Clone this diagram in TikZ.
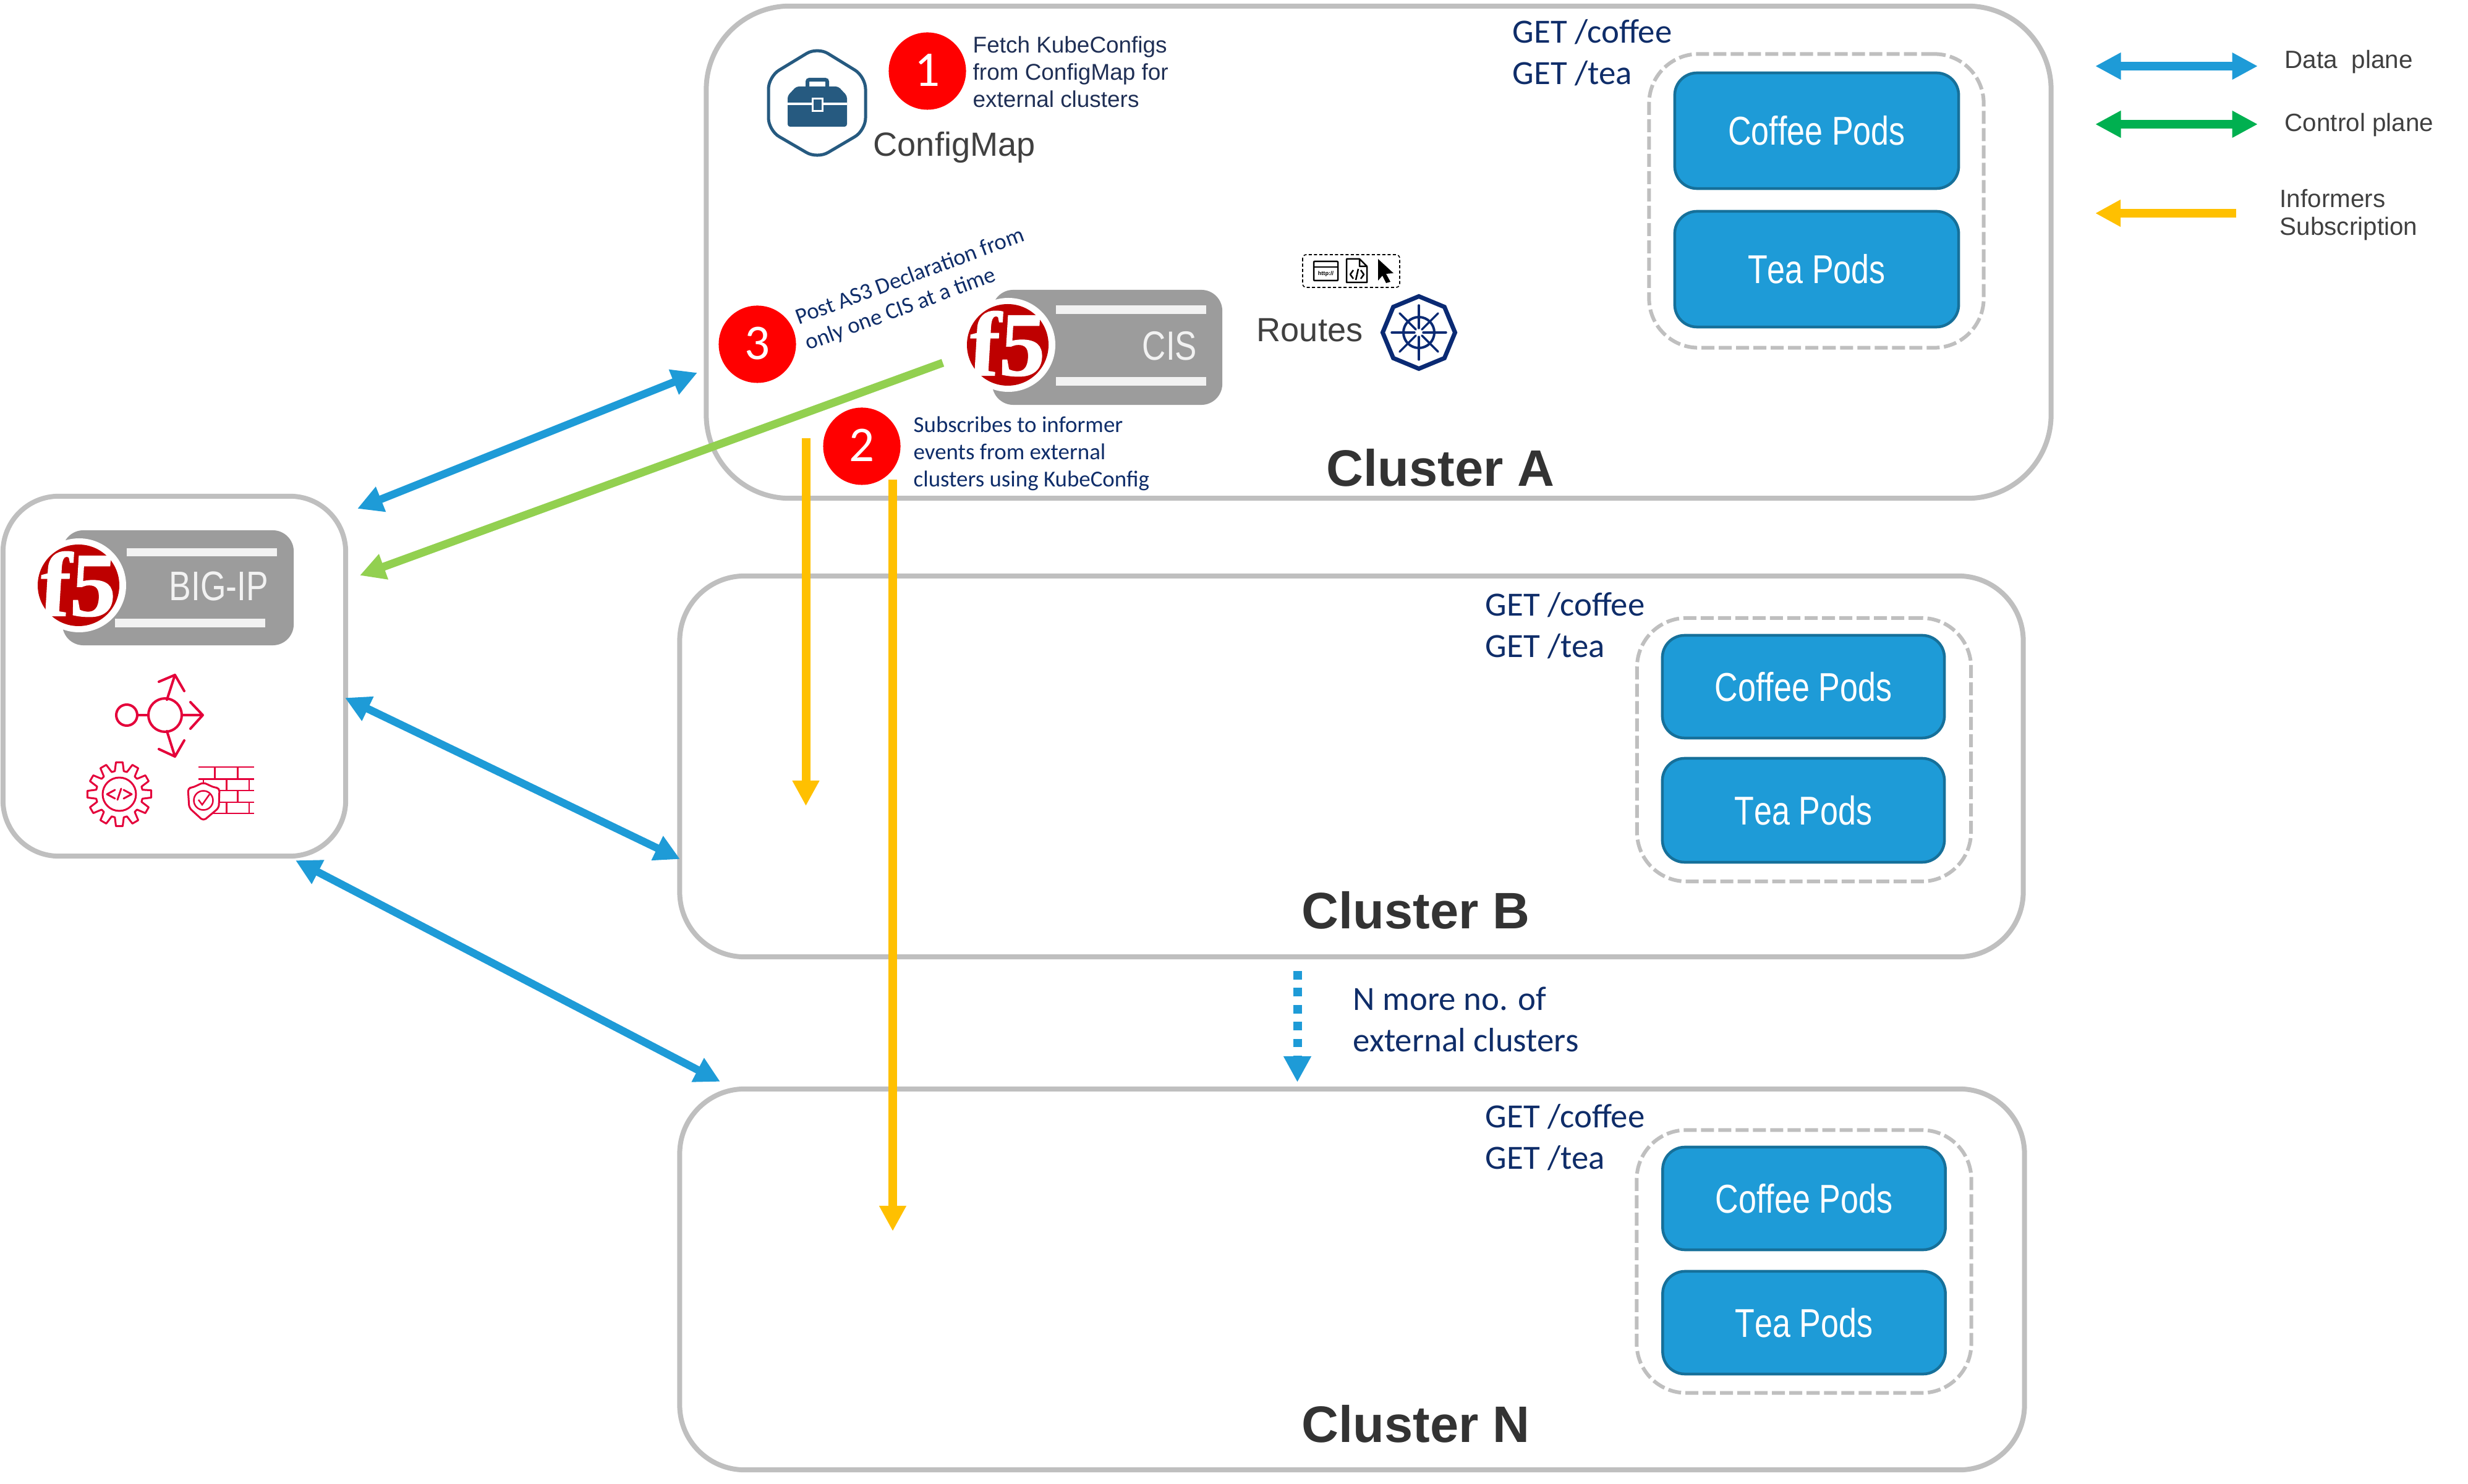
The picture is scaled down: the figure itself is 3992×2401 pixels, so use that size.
\documentclass[tikz,border=0pt]{standalone}
\usepackage{fontspec}
\usetikzlibrary{arrows.meta,shapes.geometric}
\newfontfamily\arialf[Kerning=Off]{Liberation Sans}
\newfontfamily\arialn[FakeStretch=0.8,Kerning=Off]{Liberation Sans}
\newfontfamily\carl{Carlito}
\newfontfamily\timesb[FakeBold=1]{Liberation Serif Bold}
\definecolor{panelgray}{HTML}{BFBFBF}
\definecolor{planeblue}{HTML}{1E9BD7}
\definecolor{poddark}{HTML}{16709A}
\definecolor{planegreen}{HTML}{00B050}
\definecolor{limegreen}{HTML}{92D050}
\definecolor{informer}{HTML}{FFC000}
\definecolor{navytext}{HTML}{0F2D69}
\definecolor{darknavy}{HTML}{1F2F55}
\definecolor{labelgray}{HTML}{404040}
\definecolor{clustergray}{HTML}{333333}
\definecolor{tag}{HTML}{9C9C9C}
\definecolor{barwhite}{HTML}{F2F2F2}
\definecolor{f5red}{HTML}{BE0000}
\definecolor{iconred}{HTML}{E4003A}
\definecolor{cmblue}{HTML}{265A80}
\definecolor{k8sblue}{HTML}{0A2A73}
\tikzset{
  panel/.style={draw=panelgray,line width=0.08cm,inner sep=0pt},
  dashpanel/.style={draw=panelgray,line width=0.06cm,dash pattern=on 0.21cm off 0.07cm,inner sep=0pt,rounded corners=0.8cm},
  pod/.style={draw=poddark,fill=planeblue,line width=0.045cm,rounded corners=0.36cm,inner sep=0pt,text=white,font=\arialn\fontsize{18.5pt}{18.5pt}\selectfont},
  tagbox/.style={fill=tag,rounded corners=0.34cm,inner sep=0pt,text=barwhite,font=\arialn\fontsize{19pt}{19pt}\selectfont},
  bar/.style={fill=barwhite,inner sep=0pt},
  stepdot/.style={circle,fill=red,inner sep=0pt,minimum size=1.25cm,text=white,font=\carl\fontsize{23pt}{23pt}\selectfont},
  clusterlabel/.style={inner sep=0pt,anchor=base,text=clustergray,font=\arialf\bfseries\fontsize{23.6pt}{23.6pt}\selectfont},
  gettext/.style={inner sep=0pt,anchor=north west,align=left,text=navytext,font=\carl\fontsize{15.6pt}{19.1pt}\selectfont},
  smallcarl/.style={inner sep=0pt,align=left,text=navytext,font=\carl\fontsize{10.5pt}{12.6pt}\selectfont},
  graylabel/.style={inner sep=0pt,anchor=base west,text=labelgray,font=\arialf\fontsize{15.4pt}{15.4pt}\selectfont},
  legendlabel/.style={inner sep=0pt,anchor=base west,align=left,text=labelgray,font=\arialf\fontsize{11.5pt}{12.8pt}\selectfont},
  dataarrow/.style={draw=planeblue,line width=0.125cm,{Triangle[length=0.41cm,width=0.41cm]}-{Triangle[length=0.41cm,width=0.41cm]}},
  legendtwo/.style={line width=0.135cm,{Triangle[length=0.415cm,width=0.41cm]}-{Triangle[length=0.415cm,width=0.41cm]}},
  ctrlarrow/.style={draw=limegreen,line width=0.13cm,-{Triangle[length=0.41cm,width=0.41cm]}},
  infarrow/.style={draw=informer,line width=0.14cm,-{Triangle[length=0.41cm,width=0.41cm]}},
  moredash/.style={draw=planeblue,line width=0.14cm,dash pattern=on 0.137cm off 0.137cm,-{Triangle[length=0.42cm,width=0.42cm]}},
  redicon/.style={draw=iconred,line width=0.04cm,line join=round,line cap=round},
  blackicon/.style={draw=black,line width=0.025cm,line join=round},
  pics/f5logo/.style={code={
    \fill[white] (0,0) circle (76);
    \fill[f5red] (-1,0) circle (66);
    \node[inner sep=0pt,text=white,xslant=0.06,font=\timesb\fontsize{42pt}{42pt}\selectfont] (-mark) at (-1,-2) {f5};
  }},
}
\begin{document}
\begin{tikzpicture}[x=0.01cm,y=-0.01cm]
\useasboundingbox (0,0) rectangle (3992,2401);

% clusters
\node[panel,rounded corners=1.35cm,minimum width=21.74cm,minimum height=7.96cm] (clusterA) at (2230,408) {};
\node[panel,rounded corners=1.05cm,minimum width=21.72cm,minimum height=6.16cm] (clusterB) at (2186,1240) {};
\node[panel,rounded corners=1.05cm,minimum width=21.74cm,minimum height=6.16cm] (clusterN) at (2187,2070) {};
\node[panel,rounded corners=0.9cm,minimum width=5.54cm,minimum height=5.82cm] (bigip) at (282,1094) {};

\node[clusterlabel] (labA) at (2330,787) {Cluster A};
\node[clusterlabel] (labB) at (2290,1503) {Cluster B};
\node[clusterlabel] (labN) at (2290,2333) {Cluster N};

% pods A
\node[dashpanel,minimum width=5.41cm,minimum height=4.75cm] (dashA) at (2938,325) {};
\node[pod,minimum width=4.59cm,minimum height=1.87cm] (coffeeA) at (2938.5,211.5) {Coffee Pods};
\node[pod,minimum width=4.59cm,minimum height=1.87cm] (teaA) at (2938.5,435.5) {Tea Pods};
% pods B
\node[dashpanel,minimum width=5.40cm,minimum height=4.26cm] (dashB) at (2918,1213) {};
\node[pod,minimum width=4.56cm,minimum height=1.66cm] (coffeeB) at (2917,1111) {Coffee Pods};
\node[pod,minimum width=4.56cm,minimum height=1.68cm] (teaB) at (2917,1311) {Tea Pods};
% pods N
\node[dashpanel,minimum width=5.41cm,minimum height=4.25cm] (dashN) at (2918,2041) {};
\node[pod,minimum width=4.57cm,minimum height=1.66cm] (coffeeN) at (2918,1939) {Coffee Pods};
\node[pod,minimum width=4.57cm,minimum height=1.66cm] (teaN) at (2918,2140) {Tea Pods};

% GET texts
\node[gettext] (getA) at (2446,31) {GET /coffee\\GET /tea};
\node[gettext] (getB) at (2402,958) {GET /coffee\\GET /tea};
\node[gettext] (getN) at (2402,1786) {GET /coffee\\GET /tea};
\node[gettext] (more) at (2188,1596) {N more no. of\\external clusters};

% ConfigMap icon
\draw[cmblue,line width=0.05cm,rounded corners=0.2cm,line join=round]
  (1322,76) -- (1400,124) -- (1400,211) -- (1322,257) -- (1243,211) -- (1243,124) -- cycle;
\draw[cmblue,line width=0.06cm,rounded corners=0.03cm] (1306,140) -- (1306,129) -- (1338,129) -- (1338,140);
\fill[cmblue,rounded corners=0.04cm] (1274,155) -- (1288,140) -- (1356,140) -- (1370,155) -- (1370,205) -- (1274,205) -- cycle;
\draw[white,line width=0.035cm] (1274,168) -- (1370,168);
\draw[white,fill=cmblue,line width=0.03cm] (1314,160) rectangle (1330,180);
\node[graylabel] (cmlabel) at (1412,253) {ConfigMap};

% steps
\node[stepdot] (one) at (1500,115) {\raisebox{0.8pt}{1}};
\node[stepdot] (three) at (1225,557) {\raisebox{0.8pt}{3}};
\node[stepdot] (two) at (1394,722) {\raisebox{0.8pt}{2}};
\node[inner sep=0pt,anchor=north west,align=left,text=darknavy,font=\arialf\fontsize{10.5pt}{12.55pt}\selectfont] (t1) at (1573,58) {Fetch KubeConfigs\\from ConfigMap for\\external clusters};
\node[smallcarl,anchor=north west] (t2) at (1477,673) {Subscribes to informer\\events from external\\clusters using KubeConfig};
\node[smallcarl,anchor=west,rotate=20.3] (t3) at (1296,537) {Post AS3 Declaration from\\only one CIS at a time};

% CIS tag
\node[tagbox,minimum width=3.72cm,minimum height=1.86cm] (cis) at (1791,562) {};
\node[bar,minimum width=2.43cm,minimum height=0.14cm] (cisbar1) at (1829.5,501) {};
\node[bar,minimum width=2.43cm,minimum height=0.14cm] (cisbar2) at (1829.5,617) {};
\node[inner sep=0pt,text=barwhite,font=\arialn\fontsize{18.8pt}{18.8pt}\selectfont] (cistext) at (1892,560) {CIS};
\pic (cislogo) at (1631,558) {f5logo};

% BIG-IP tag
\node[tagbox,minimum width=3.74cm,minimum height=1.86cm] (biptag) at (288,951) {};
\node[bar,minimum width=2.43cm,minimum height=0.13cm] (bipbar1) at (326.5,893.5) {};
\node[bar,minimum width=2.43cm,minimum height=0.14cm] (bipbar2) at (307.5,1008) {};
\node[inner sep=0pt,text=barwhite,font=\arialn\fontsize{19pt}{19pt}\selectfont] (biptext) at (354,949) {BIG-IP};
\pic (biplogo) at (128,947) {f5logo};

% red router icon
\draw[redicon] (205,1157) circle (17);
\draw[redicon] (267,1157) circle (27);
\draw[redicon] (222,1157) -- (240,1157);
\draw[redicon] (294,1157) -- (328,1157) (308,1136) -- (328,1157) -- (308,1179);
\draw[redicon] (270,1132) -- (283,1092) (257,1103) -- (283,1092) -- (298,1118);
\draw[redicon] (270,1183) -- (283,1224) (257,1212) -- (283,1224) -- (298,1198);
% gear
\begin{scope}[shift={(193,1285)}]
\draw[redicon,line width=0.03cm] (-7:52) \foreach \a in {0,30,...,330} { -- (\a-6:52) -- (\a+6:52) -- (\a+11:38) -- (\a+19:38) } -- cycle;
\draw[redicon,line width=0.03cm] (0,0) circle (27);
\draw[redicon,line width=0.03cm] (-7,-7) -- (-20,0) -- (-7,7) (7,-7) -- (20,0) -- (7,7) (3,-9) -- (-3,9);
\end{scope}
% wall
\draw[iconred,line width=0.025cm]
  (321,1241) -- (411,1241) (321,1260.5) -- (411,1260.5) (340,1279) -- (411,1279) (340,1298) -- (411,1298) (340,1316) -- (411,1316)
  (347.5,1241) -- (347.5,1260.5) (384.5,1241) -- (384.5,1260.5)
  (366.5,1260.5) -- (366.5,1279) (403,1260.5) -- (403,1279)
  (384.5,1279) -- (384.5,1298)
  (366.5,1298) -- (366.5,1316) (403,1298) -- (403,1316)
  (329,1260.5) -- (329,1267);
\draw[draw=iconred,fill=white,line width=0.03cm,rounded corners=0.05cm,line join=round]
  (329,1266) -- (346,1274) -- (355,1275) -- (354,1307) -- (329,1328) -- (306,1307) -- (304,1275) -- (312,1274) -- cycle;
\draw[iconred,line width=0.025cm] (329,1295) circle (15.5);
\draw[iconred,line width=0.025cm] (321,1294) -- (327,1302) -- (339,1285);

% routes
\node[graylabel] (routes) at (2032,553) {Routes};
\draw[black,line width=0.016cm,dash pattern=on 0.05cm off 0.035cm,rounded corners=0.06cm] (2107,412) rectangle (2264,465);
\draw[blackicon,rounded corners=0.01cm] (2125,423) rectangle (2164,454);
\draw[blackicon] (2125,432) -- (2164,432);
\node[inner sep=0pt,font=\arialf\bfseries\fontsize{2.6pt}{2.6pt}\selectfont] (httpicon) at (2144.5,443) {http://};
\draw[blackicon] (2178,419) -- (2199,419) -- (2211,431) -- (2211,457) -- (2178,457) -- cycle (2199,419) -- (2199,431) -- (2211,431);
\draw[blackicon] (2189,437) -- (2184,444) -- (2189,451) (2201,437) -- (2206,444) -- (2201,451) (2197,435) -- (2193,453);
\fill[black] (2229,419) -- (2254,442) -- (2242,443) -- (2249,456) -- (2242,458) -- (2236,446) -- (2229,454) -- cycle;
% kubernetes
\begin{scope}[shift={(2295,538)}]
\node[draw=k8sblue,line width=0.07cm,regular polygon,regular polygon sides=8,minimum size=1.17cm,inner sep=0pt,shape border rotate=22.5] (k8s) at (0,0) {};
\draw[k8sblue,line width=0.04cm] (0,0) circle (25);
\foreach \a in {0,45,...,315} \draw[k8sblue,line width=0.035cm,line cap=round] (\a:7) -- (\a:44);
\end{scope}

% connector ends
\coordinate (d1a) at (1128,603); \coordinate (d1b) at (578,823);
\coordinate (d2a) at (558,1129); \coordinate (d2b) at (1100,1390);
\coordinate (d3a) at (478,1392); \coordinate (d3b) at (1165,1750);
\coordinate (c1a) at (1525,587); \coordinate (c1b) at (582,931);
\coordinate (i1a) at (1303.5,709); \coordinate (i1b) at (1303.5,1304);
\coordinate (i2a) at (1444,776); \coordinate (i2b) at (1444,1992);
\coordinate (m1a) at (2098.5,1571); \coordinate (m1b) at (2098.5,1751);
\draw[dataarrow] (d1a) -- (d1b);
\draw[dataarrow] (d2a) -- (d2b);
\draw[dataarrow] (d3a) -- (d3b);
\draw[ctrlarrow] (c1a) -- (c1b);
\draw[infarrow] (i1a) -- (i1b);
\draw[infarrow] (i2a) -- (i2b);
\draw[moredash] (m1a) -- (m1b);

% legend
\coordinate (l1a) at (3389,107); \coordinate (l1b) at (3652,107);
\coordinate (l2a) at (3389,201); \coordinate (l2b) at (3652,201);
\coordinate (l3a) at (3617,345); \coordinate (l3b) at (3389,345);
\draw[legendtwo,draw=planeblue] (l1a) -- (l1b);
\draw[legendtwo,draw=planegreen] (l2a) -- (l2b);
\draw[infarrow,line width=0.135cm] (l3a) -- (l3b);
\node[legendlabel] (leg1) at (3695,111) {Data\ \ plane};
\node[legendlabel] (leg2) at (3695,213) {Control plane};
\node[legendlabel,anchor=north west] (leg3) at (3687,306) {Informers\\Subscription};
\end{tikzpicture}
\end{document}
